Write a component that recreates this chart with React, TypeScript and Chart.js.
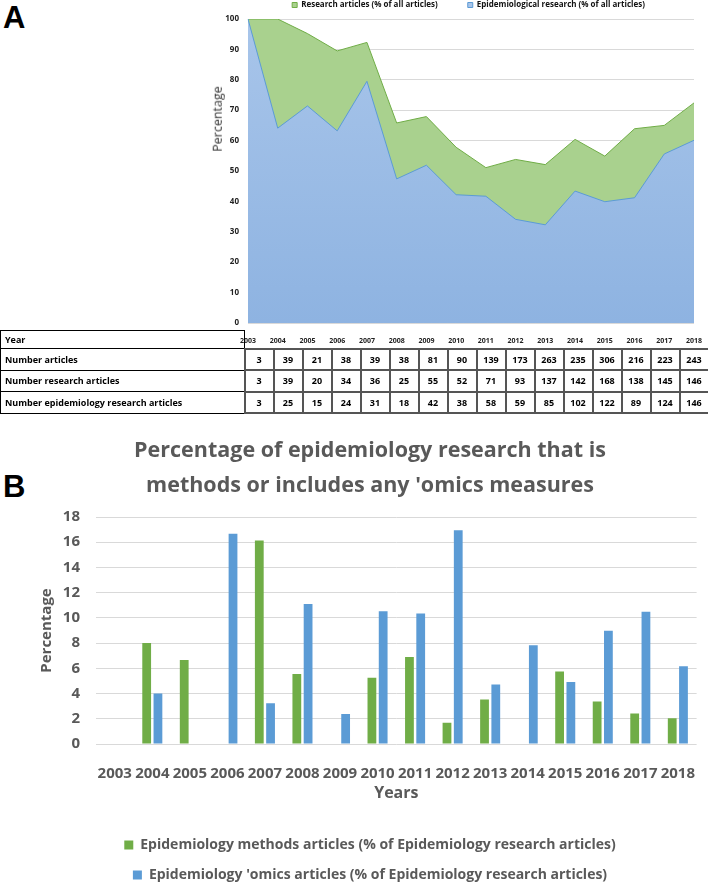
import React, { useEffect, useRef } from 'react';
import { Chart, registerables } from 'chart.js';

Chart.register(...registerables);

// ---------- data ----------
const years = ['2003', '2004', '2005', '2006', '2007', '2008', '2009', '2010', '2011', '2012', '2013', '2014', '2015', '2016', '2017', '2018'];

// Panel A: area chart (percent of all articles)
const researchPct = [100, 100, 95.2, 89.5, 92.3, 65.8, 67.9, 57.8, 51.1, 53.8, 52.1, 60.4, 54.9, 63.9, 65.0, 72.4];
const epiPct = [100, 64.1, 71.4, 63.2, 79.5, 47.4, 51.9, 42.2, 41.7, 34.1, 32.3, 43.4, 39.9, 41.2, 55.6, 60.1];

// Panel A: table
const numArticles = [3, 39, 21, 38, 39, 38, 81, 90, 139, 173, 263, 235, 306, 216, 223, 243];
const numResearch = [3, 39, 20, 34, 36, 25, 55, 52, 71, 93, 137, 142, 168, 138, 145, 146];
const numEpi = [3, 25, 15, 24, 31, 18, 42, 38, 58, 59, 85, 102, 122, 89, 124, 146];

// Panel B: bars (percent of epidemiology research articles)
const methodsPct = [0, 8.0, 6.67, 0, 16.13, 5.56, 0, 5.26, 6.9, 1.69, 3.53, 0, 5.74, 3.37, 2.42, 2.05];
const omicsPct = [0, 4.0, 0, 16.67, 3.23, 11.11, 2.38, 10.53, 10.34, 16.95, 4.71, 7.84, 4.92, 8.99, 10.48, 6.16];

const titleLines = ['Percentage of epidemiology research that is', "methods or includes any 'omics measures"];

const FONT = "'Open Sans', 'DejaVu Sans', sans-serif";
const GRAY = '#595959';

export default function App() {
  const refA = useRef<HTMLCanvasElement | null>(null);
  const refB = useRef<HTMLCanvasElement | null>(null);

  useEffect(() => {
    const blueFill = (ctx: any) => {
      const chart = ctx.chart;
      const a = chart.chartArea;
      if (!a) return '#9dc0e6';
      const g = chart.ctx.createLinearGradient(0, a.top, 0, a.bottom);
      g.addColorStop(0, '#a8c5ea');
      g.addColorStop(1, '#8eb3e1');
      return g;
    };

    const chartA = new Chart(refA.current as HTMLCanvasElement, {
      type: 'line',
      data: {
        labels: years,
        datasets: [
          {
            label: 'Epidemiological research (% of all articles)',
            data: epiPct,
            fill: 'origin',
            backgroundColor: blueFill,
            borderColor: '#5b9bd5',
            borderWidth: 1,
            pointRadius: 0,
            tension: 0,
          },
          {
            label: 'Research articles (% of all articles)',
            data: researchPct,
            fill: 'origin',
            backgroundColor: '#a9d18e',
            borderColor: '#70ad47',
            borderWidth: 1,
            pointRadius: 0,
            tension: 0,
          },
        ],
      },
      options: {
        responsive: false,
        animation: false,
        layout: { padding: { top: 1, right: 0, bottom: 0, left: 0 } },
        plugins: {
          legend: {
            position: 'top',
            reverse: true,
            labels: {
              font: { family: FONT, size: 8, weight: 'bold' },
              color: '#111',
              boxWidth: 5,
              boxHeight: 5,
              padding: 30,
            },
          },
          tooltip: { enabled: false },
        },
        scales: {
          x: {
            grid: { display: false },
            border: { display: false },
            ticks: {
              font: { family: FONT, size: 7, weight: 'bold' },
              color: '#222',
              padding: 6,
              maxRotation: 0,
              autoSkip: false,
            },
            afterFit: (s: any) => {
              s.height = 22;
            },
          },
          y: {
            min: 0,
            max: 100,
            ticks: {
              stepSize: 10,
              padding: 9,
              font: { family: FONT, size: 8, weight: 'bold' },
              color: '#222',
            },
            grid: { color: '#d9d9d9', drawTicks: false },
            border: { display: false },
            afterFit: (s: any) => {
              s.width = 48;
            },
          },
          yr: {
            type: 'linear',
            position: 'right',
            display: true,
            ticks: { display: false },
            grid: { display: false },
            border: { display: false },
            afterFit: (s: any) => {
              s.width = 43;
            },
          },
        },
      },
    } as any);

    const chartB = new Chart(refB.current as HTMLCanvasElement, {
      type: 'bar',
      data: {
        labels: years,
        datasets: [
          {
            label: 'Epidemiology methods articles (% of Epidemiology research articles)',
            data: methodsPct,
            backgroundColor: '#70ad47',
            categoryPercentage: 0.6,
            barPercentage: 0.78,
          },
          {
            label: "Epidemiology 'omics articles (% of Epidemiology research articles)",
            data: omicsPct,
            backgroundColor: '#5b9bd5',
            categoryPercentage: 0.6,
            barPercentage: 0.78,
          },
        ],
      },
      options: {
        responsive: false,
        animation: false,
        layout: { padding: 0 },
        plugins: {
          title: {
            display: true,
            text: titleLines,
            font: { family: FONT, size: 21.5, weight: 'bold', lineHeight: 35 / 21.5 },
            color: GRAY,
            padding: { top: 13.5, bottom: 13.5 },
          },
          legend: {
            position: 'bottom',
            labels: {
              font: { family: FONT, size: 14, weight: 'bold' },
              color: GRAY,
              boxWidth: 9,
              boxHeight: 9,
              padding: 16,
            },
          },
          tooltip: { enabled: false },
        },
        scales: {
          x: {
            grid: { display: false },
            border: { display: false },
            ticks: {
              font: { family: FONT, size: 15, weight: 'bold' },
              color: GRAY,
              padding: 13,
              autoSkip: false,
              maxRotation: 0,
            },
            title: {
              display: true,
              text: 'Years',
              font: { family: FONT, size: 16, weight: 'bold' },
              color: GRAY,
              padding: { top: 0, bottom: 19.4 },
            },
            afterFit: (s: any) => {
              s.height = 78;
            },
          },
          y: {
            min: 0,
            max: 18,
            ticks: {
              stepSize: 2,
              padding: 16,
              font: { family: FONT, size: 15, weight: 'bold' },
              color: GRAY,
            },
            grid: { color: '#d9d9d9', drawTicks: false },
            border: { display: false },
            title: {
              display: true,
              text: 'Percentage',
              font: { family: FONT, size: 15, weight: 'bold' },
              color: GRAY,
              padding: { top: 6, bottom: 0 },
            },
            afterFit: (s: any) => {
              s.width = 64;
            },
          },
        },
      },
    } as any);

    return () => {
      chartA.destroy();
      chartB.destroy();
    };
  }, []);

  const rows = [
    { label: 'Number articles', values: numArticles },
    { label: 'Number research articles', values: numResearch },
    { label: 'Number epidemiology research articles', values: numEpi },
  ];

  const labelCell: React.CSSProperties = {
    border: '1px solid #000',
    padding: '0 0 0 4px',
    textAlign: 'left',
    height: 21.5,
    boxSizing: 'border-box',
    whiteSpace: 'nowrap',
  };
  const dataCell: React.CSSProperties = {
    border: '2px solid #555',
    padding: 0,
    textAlign: 'center',
    height: 21.5,
    boxSizing: 'border-box',
  };

  return (
    <div
      style={{
        position: 'fixed',
        left: 0,
        top: 0,
        width: 708,
        height: 889,
        overflow: 'hidden',
        background: '#fff',
      }}
    >
      <div
        style={{
          position: 'absolute',
          left: 3,
          top: 2,
          font: "bold 31px 'Liberation Sans', Arial, sans-serif",
          lineHeight: 1,
          color: '#000',
        }}
      >
        A
      </div>
      <canvas
        ref={refA}
        width={537}
        height={375}
        style={{ position: 'absolute', left: 200, top: -30, display: 'block' }}
      />
      <div
        style={{
          position: 'absolute',
          left: 218,
          top: 119,
          transform: 'translate(-50%, -50%) rotate(-90deg)',
          fontFamily: FONT,
          fontSize: 12.5,
          lineHeight: 1,
          color: '#333',
          whiteSpace: 'nowrap',
        }}
      >
        Percentage
      </div>
      <table
        style={{
          position: 'absolute',
          left: 0,
          top: 330,
          width: 708,
          borderCollapse: 'collapse',
          tableLayout: 'fixed',
          fontFamily: FONT,
          fontWeight: 'bold',
          fontSize: 9,
          color: '#000',
        }}
      >
        <colgroup>
          <col style={{ width: 244 }} />
          {years.map((y) => (
            <col key={y} style={{ width: 29 }} />
          ))}
        </colgroup>
        <tbody>
          <tr>
            <td style={{ ...labelCell, height: 18 }}>Year</td>
            <td colSpan={16} style={{ border: 'none', padding: 0 }} />
          </tr>
          {rows.map((r) => (
            <tr key={r.label}>
              <td style={labelCell}>{r.label}</td>
              {r.values.map((v, i) => (
                <td key={i} style={dataCell}>
                  {v}
                </td>
              ))}
            </tr>
          ))}
        </tbody>
      </table>
      <div
        style={{
          position: 'absolute',
          left: 3,
          top: 471,
          font: "bold 31px 'Liberation Sans', Arial, sans-serif",
          lineHeight: 1,
          color: '#000',
        }}
      >
        B
      </div>
      <canvas
        ref={refB}
        width={676}
        height={472}
        style={{ position: 'absolute', left: 32, top: 420, display: 'block' }}
      />
    </div>
  );
}
